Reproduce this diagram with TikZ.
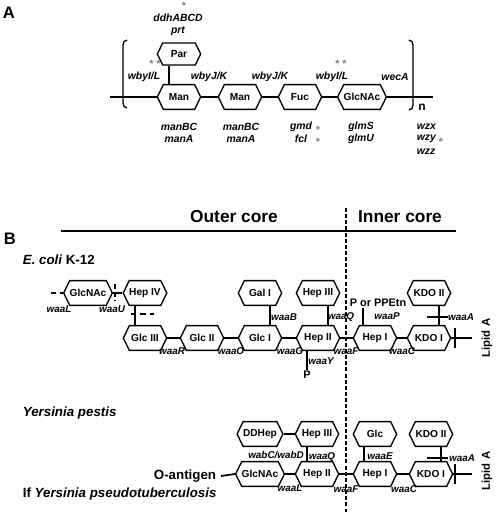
\documentclass[tikz,border=0pt]{standalone}
\usepackage{fontspec}
\setmainfont{Liberation Sans}
\usetikzlibrary{shapes.symbols}

\begin{document}
\begin{tikzpicture}[x=0.75pt, y=-0.75pt, line width=1.3pt,
		sugar/.style={draw, line width=1pt, signal, signal to=east and west,
			signal pointer angle=128, inner sep=0pt, minimum height=18.6pt,
			minimum width=32.5pt, fill=white, font=\fontsize{7.6}{8}\selectfont\bfseries},
		gene/.style={inner sep=0pt, font=\fontsize{7.4}{8}\selectfont\bfseries\itshape},
		genea/.style={inner sep=0pt, font=\fontsize{7.8}{9}\selectfont\bfseries\itshape},
		star/.style={inner sep=0pt, text=gray, font=\fontsize{8}{8}\selectfont\bfseries},
		strain/.style={inner sep=0pt, font=\fontsize{10}{12}\selectfont\bfseries},
		panel/.style={inner sep=0pt, font=\fontsize{12.5}{14}\selectfont\bfseries}]
	\useasboundingbox (0,0) rectangle (498,519);

	% panel A: O-antigen repeat unit
	\node [panel] (pA) at (9,13) {A};
	\node [star] at (184,6) {*};
	\node [genea] (ddh) at (178,18) {ddhABCD};
	\node [genea] (prt) at (178,31) {prt};
	\node [sugar, minimum height=16.5pt] (par) at (179,54) {Par};
	\node [sugar] (man1) at (179,97) {Man};
	\node [sugar] (man2) at (240,97) {Man};
	\node [sugar] (fuc) at (300,97) {Fuc};
	\node [sugar] (glcnacA) at (362,97) {GlcNAc};
	\coordinate (aL) at (110,97);
	\coordinate (aR) at (433,97);
	\draw (aL) -- (man1.west);
	\draw (man1.east) -- (man2.west);
	\draw (man2.east) -- (fuc.west);
	\draw (fuc.east) -- (glcnacA.west);
	\draw (glcnacA.east) -- (aR);
	\draw ([xshift=-7.5pt]par.south) -- ([xshift=-7.5pt]man1.north);
	\draw[line width=1pt] (127,40) to[out=180,in=90] (123,45) -- (123,103) to[out=-90,in=180] (127,108);
	\draw[line width=1pt] (409,40) to[out=0,in=90] (413,45) -- (413,105) to[out=-90,in=0] (409,110);
	\node [strain, font=\fontsize{9}{10}\selectfont\bfseries] (nrep) at (422,107) {n};
	\node [star] at (155,64) {* *};
	\node [genea] at (144,77) {wbyI/L};
	\node [genea] at (209,77) {wbyJ/K};
	\node [genea] at (270,77) {wbyJ/K};
	\node [star] at (341,64) {* *};
	\node [genea] at (332,77) {wbyI/L};
	\node [genea] at (395,77) {wecA};
	\node [genea] at (179,127) {manBC};
	\node [genea] at (179,139) {manA};
	\node [genea] at (241,127) {manBC};
	\node [genea] at (241,139) {manA};
	\node [genea] at (301,127) {gmd};
	\node [genea] at (301,139) {fcl};
	\node [star] at (318,130) {*};
	\node [genea] at (361,127) {glmS};
	\node [genea] at (361,139) {glmU};
	\node [star] at (318,142) {*};
	\node [genea, anchor=west] at (416,127) {wzx};
	\node [genea, anchor=west] at (416,139) {wzy};
	\node [star] at (441,142) {*};
	\node [genea, anchor=west] at (416,152) {wzz};

	% panel B: core oligosaccharide
	\node [panel] (pB) at (10,239) {B};
	\node [panel, font=\fontsize{13}{14}\selectfont\bfseries] (outer) at (234,217) {Outer core};
	\node [panel, font=\fontsize{13}{14}\selectfont\bfseries] (inner) at (400,217) {Inner core};
	\draw (61,231) -- (456,231);
	\draw[line width=0.8pt, dash pattern=on 3pt off 1.6pt] (346,208) -- (346,512);

	% E. coli K-12
	\node [strain, anchor=west] (ecoli) at (22,260) {\itshape E. coli\upshape{} K-12};
	\node [sugar] (glcnacE) at (88,293) {GlcNAc};
	\node [sugar] (hepIV) at (145,293) {Hep IV};
	\node [sugar] (glcIII) at (145,338) {Glc III};
	\node [sugar] (glcII) at (202,338) {Glc II};
	\node [sugar] (glcI) at (260,338) {Glc I};
	\node [sugar] (hepII) at (318,338) {Hep II};
	\node [sugar] (hepI) at (375,338) {Hep I};
	\node [sugar] (kdoI) at (429,338) {KDO I};
	\node [sugar] (galI) at (260,293) {Gal I};
	\node [sugar] (hepIII) at (318,293) {Hep III};
	\node [sugar] (kdoII) at (429,293) {KDO II};
	\node [strain, font=\fontsize{8.2}{9}\selectfont\bfseries] (ppetn) at (378,303) {P or PPEtn};
	\node [strain, font=\fontsize{8.2}{9}\selectfont\bfseries] (pE) at (307,375) {P};
	\node [strain, font=\fontsize{8.5}{9}\selectfont\bfseries, rotate=90] (lipE) at (487,338) {Lipid A};
	\coordinate (oE) at (51,293);
	\coordinate (eE) at (472,338);
	\draw[dash pattern=on 4pt off 3pt] (oE) -- (glcnacE.west);
	\draw (glcnacE.east) -- (hepIV.west);
	\draw[line width=1pt, dash pattern=on 4pt off 2pt] (115,284) -- (115,301);
	\draw ([xshift=-7.5pt]hepIV.south) -- ([xshift=-7.5pt]glcIII.north);
	\draw[line width=1pt, dash pattern=on 4pt off 3pt] (131,314) -- (154,314);
	\draw (glcIII.east) -- (glcII.west);
	\draw (glcII.east) -- (glcI.west);
	\draw (glcI.east) -- (hepII.west);
	\draw (hepII.east) -- (hepI.west);
	\draw (hepI.east) -- (kdoI.west);
	\draw (kdoI.east) -- (eE);
	\draw (455,328) -- (455,348);
	\draw ([xshift=7.5pt]galI.south) -- ([xshift=7.5pt]glcI.north);
	\draw ([xshift=7.5pt]hepIII.south) -- ([xshift=7.5pt]hepII.north);
	\draw ([xshift=7.5pt]kdoII.south) -- ([xshift=7.5pt]kdoI.north);
	\draw (427,317) -- (448,317);
	\draw ([xshift=-9pt]hepI.north) -- ([xshift=-9pt]hepI.north |- ppetn.south);
	\draw (pE.north |- hepII.south) -- (pE.north);
	\node [gene] at (59,309) {waaL};
	\node [gene] at (112,309) {waaU};
	\node [gene] at (172,351) {waaR};
	\node [gene] at (231,351) {waaO};
	\node [gene] at (290,351) {waaG};
	\node [gene] at (346,351) {waaF};
	\node [gene] at (402,351) {waaC};
	\node [gene] at (321,361) {waaY};
	\node [gene] at (284,317) {waaB};
	\node [gene] at (341,317) {waaQ};
	\node [gene] at (387,316) {waaP};
	\node [gene] at (461,317) {waaA};

	% Yersinia
	\node [strain, anchor=west] (ypestis) at (22,413) {\itshape Yersinia pestis};
	\node [sugar] (ddhep) at (260,434) {DDHep};
	\node [sugar] (hepIIIy) at (317,434) {Hep III};
	\node [sugar] (glc) at (375,434) {Glc};
	\node [sugar] (kdoIIy) at (431,434) {KDO II};
	\node [sugar] (glcnacY) at (260,474) {GlcNAc};
	\node [sugar] (hepIIy) at (317,474) {Hep II};
	\node [sugar] (hepIy) at (375,474) {Hep I};
	\node [sugar] (kdoIy) at (431,474) {KDO I};
	\node [strain, anchor=east] (oant) at (217,476) {O-antigen};
	\node [strain, anchor=west] (ypseudo) at (22,494) {If \itshape Yersinia pseudotuberculosis};
	\node [strain, font=\fontsize{8.5}{9}\selectfont\bfseries, rotate=90] (lipY) at (487,471) {Lipid A};
	\coordinate (eY) at (472,474);
	\draw (ddhep.east) -- (hepIIIy.west);
	\draw (oant.east) ++(4,0) -- (glcnacY.west);
	\draw (glcnacY.east) -- (hepIIy.west);
	\draw (hepIIy.east) -- (hepIy.west);
	\draw (hepIy.east) -- (kdoIy.west);
	\draw (kdoIy.east) -- (eY);
	\draw (455,464) -- (455,484);
	\draw ([xshift=-7.5pt]hepIIIy.south) -- ([xshift=-7.5pt]hepIIy.north);
	\draw ([xshift=-8.25pt]glc.south) -- ([xshift=-8.25pt]hepIy.north);
	\draw ([xshift=7.5pt]kdoIIy.south) -- ([xshift=7.5pt]kdoIy.north);
	\draw (427,458) -- (448,458);
	\node [gene] at (276,455) {wabC/wabD};
	\node [gene] at (322,457) {waaQ};
	\node [gene] at (380,456) {waaE};
	\node [gene] at (462,458) {waaA};
	\node [gene] at (290,488) {waaL};
	\node [gene] at (346,489) {waaF};
	\node [gene] at (404,489) {waaC};
\end{tikzpicture}
\end{document}
